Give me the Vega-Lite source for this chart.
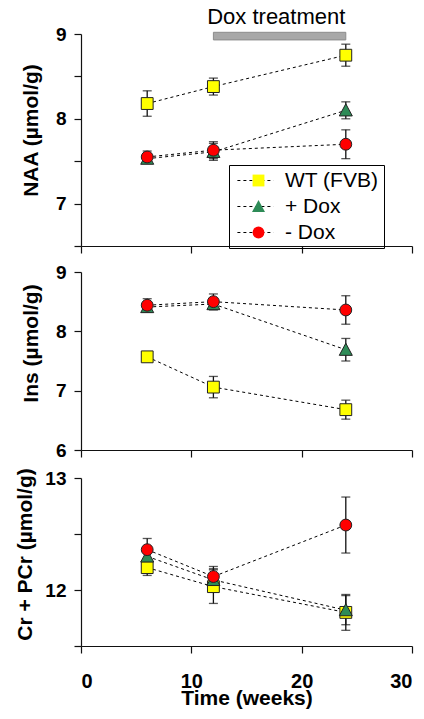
{
  "$schema": "https://vega.github.io/schema/vega-lite/v6.json",
  "padding": {"left": 14, "top": 5, "right": 8, "bottom": 8},
  "background": "white",
  "datasets": {
    "naa": [
      {"group": "WT (FVB)", "week": 6, "mean": 8.18, "err": 0.15},
      {"group": "WT (FVB)", "week": 12, "mean": 8.38, "err": 0.10},
      {"group": "WT (FVB)", "week": 24, "mean": 8.75, "err": 0.13},
      {"group": "+ Dox", "week": 6, "mean": 7.53, "err": 0.05},
      {"group": "+ Dox", "week": 12, "mean": 7.61, "err": 0.10},
      {"group": "+ Dox", "week": 24, "mean": 8.10, "err": 0.10},
      {"group": " - Dox", "week": 6, "mean": 7.55, "err": 0.07},
      {"group": " - Dox", "week": 12, "mean": 7.63, "err": 0.10},
      {"group": " - Dox", "week": 24, "mean": 7.70, "err": 0.17}
    ],
    "ins": [
      {"group": "WT (FVB)", "week": 6, "mean": 7.57, "err": 0.05},
      {"group": "WT (FVB)", "week": 12, "mean": 7.06, "err": 0.18},
      {"group": "WT (FVB)", "week": 24, "mean": 6.68, "err": 0.16},
      {"group": "+ Dox", "week": 6, "mean": 8.41, "err": 0.07},
      {"group": "+ Dox", "week": 12, "mean": 8.46, "err": 0.10},
      {"group": "+ Dox", "week": 24, "mean": 7.69, "err": 0.19},
      {"group": " - Dox", "week": 6, "mean": 8.44, "err": 0.11},
      {"group": " - Dox", "week": 12, "mean": 8.50, "err": 0.13},
      {"group": " - Dox", "week": 24, "mean": 8.36, "err": 0.24}
    ],
    "cr": [
      {"group": "WT (FVB)", "week": 6, "mean": 12.20, "err": 0.07},
      {"group": "WT (FVB)", "week": 12, "mean": 12.03, "err": 0.15},
      {"group": "WT (FVB)", "week": 24, "mean": 11.80, "err": 0.16},
      {"group": "+ Dox", "week": 6, "mean": 12.30, "err": 0.08},
      {"group": "+ Dox", "week": 12, "mean": 12.09, "err": 0.10},
      {"group": "+ Dox", "week": 24, "mean": 11.82, "err": 0.13},
      {"group": " - Dox", "week": 6, "mean": 12.36, "err": 0.10},
      {"group": " - Dox", "week": 12, "mean": 12.12, "err": 0.09},
      {"group": " - Dox", "week": 24, "mean": 12.58, "err": 0.25}
    ],
    "dox": [
      {"start": 12, "end": 24, "label": "Dox treatment"}
    ]
  },
  "vconcat": [
    {
      "width": 331,
      "height": 212,
      "layer": [
        {
          "data": {"name": "dox"},
          "mark": {"type": "rect", "fill": "#a8a8a8", "stroke": "#8c8c8c", "strokeWidth": 1, "clip": false},
          "encoding": {
            "x": {"field": "start", "type": "quantitative", "title": null, "scale": {"domain": [0, 30], "nice": false},
                  "axis": {"values": [0, 10, 20, 30], "labels": false, "title": null}},
            "x2": {"field": "end"},
            "y": {"datum": 9.02, "type": "quantitative", "title": "NAA (µmol/g)", "scale": {"domain": [6.5, 9], "nice": false, "zero": false},
                  "axis": {"values": [6.5, 7, 7.5, 8, 8.5, 9], "labelExpr": "datum.value % 1 === 0 ? format(datum.value, 'd') : ''",
                           "title": "NAA (µmol/g)", "titlePadding": 14, "titleY": 96}},
            "y2": {"datum": 8.93}
          }
        },
        {
          "data": {"name": "dox"},
          "mark": {"type": "text", "font": "Liberation Sans", "fontSize": 22, "color": "black", "baseline": "alphabetic", "align": "center", "clip": false},
          "encoding": {
            "x": {"datum": 17.7, "type": "quantitative", "title": null},
            "y": {"datum": 9.12, "type": "quantitative", "title": "NAA (µmol/g)"},
            "text": {"field": "label"}
          }
        },
        {
          "data": {"name": "naa"},
          "mark": {"type": "line", "color": "black", "strokeWidth": 1, "strokeDash": [3, 3]},
          "encoding": {
            "x": {"field": "week", "type": "quantitative", "title": null},
            "y": {"field": "mean", "type": "quantitative", "title": "NAA (µmol/g)"},
            "strokeDash": {"field": "group", "type": "nominal", "sort": "descending",
              "scale": {"range": [[3, 3], [3, 3], [3, 3]]},
              "legend": {"orient": "none", "legendX": 148, "legendY": 131, "title": null,
                "symbolType": "M-1.2,0H4.9", "symbolSize": 140, "symbolDash": [3, 3],
                "symbolStrokeColor": "black", "symbolStrokeWidth": 1, "symbolFillColor": "transparent",
                "padding": 5, "rowPadding": 4, "labelOffset": 30, "labelFontSize": 21,
                "labelFont": "Liberation Sans", "labelColor": "black", "labelLimit": 300,
                "strokeColor": "black"}}
          }
        },
        {
          "data": {"name": "naa"},
          "mark": {"type": "errorbar", "color": "#111", "thickness": 1.3, "ticks": {"size": 9, "thickness": 1.3}},
          "encoding": {
            "x": {"field": "week", "type": "quantitative", "title": null},
            "y": {"field": "mean", "type": "quantitative", "title": "NAA (µmol/g)"},
            "yError": {"field": "err"}
          }
        },
        {
          "data": {"name": "naa"},
          "mark": {"type": "point", "filled": true, "size": 140, "stroke": "#222", "strokeWidth": 1, "opacity": 1},
          "encoding": {
            "x": {"field": "week", "type": "quantitative", "title": null},
            "y": {"field": "mean", "type": "quantitative", "title": "NAA (µmol/g)"},
            "shape": {"field": "group", "type": "nominal",
              "scale": {"domain": ["WT (FVB)", "+ Dox", " - Dox"], "range": ["square", "M0,-1.1L1.1,0.95L-1.1,0.95Z", "circle"]},
              "legend": {"orient": "none", "legendX": 162, "legendY": 131, "title": null,
                "symbolSize": 140, "symbolStrokeColor": "#222", "symbolStrokeWidth": 1,
                "padding": 5, "rowPadding": 4, "labelOpacity": 0, "labelFontSize": 21,
                "labelFont": "Liberation Sans", "labelLimit": 300}},
            "fill": {"field": "group", "type": "nominal",
              "scale": {"domain": ["WT (FVB)", "+ Dox", " - Dox"], "range": ["#ffff00", "#2e8b57", "#ff0000"]},
              "legend": {"orient": "none", "legendX": 162, "legendY": 131, "title": null,
                "symbolSize": 140, "symbolStrokeColor": "#222", "symbolStrokeWidth": 1,
                "padding": 5, "rowPadding": 4, "labelOpacity": 0, "labelFontSize": 21,
                "labelFont": "Liberation Sans", "labelLimit": 300}}
          }
        }
      ]
    },
    {
      "spacing": 7,
      "resolve": {
        "scale": {"shape": "independent", "fill": "independent"},
        "legend": {"shape": "independent", "fill": "independent"}
      },
      "vconcat": [
        {
          "width": 331,
          "height": 178,
          "encoding": {
            "x": {"field": "week", "type": "quantitative", "scale": {"domain": [0, 30], "nice": false},
                  "axis": {"values": [0, 10, 20, 30], "labels": false, "title": null}},
            "y": {"field": "mean", "type": "quantitative", "scale": {"domain": [6, 9], "nice": false, "zero": false},
                  "axis": {"values": [6, 7, 8, 9], "format": "d", "title": "Ins (µmol/g)", "titlePadding": 14, "titleY": 71}}
          },
          "layer": [
            {
              "data": {"name": "ins"},
              "mark": {"type": "line", "color": "black", "strokeWidth": 1, "strokeDash": [3, 3]},
              "encoding": {"detail": {"field": "group"}}
            },
            {
              "data": {"name": "ins"},
              "mark": {"type": "errorbar", "color": "#111", "thickness": 1.3, "ticks": {"size": 9, "thickness": 1.3}},
              "encoding": {"yError": {"field": "err"}}
            },
            {
              "data": {"name": "ins"},
              "mark": {"type": "point", "filled": true, "size": 140, "stroke": "#222", "strokeWidth": 1, "opacity": 1},
              "encoding": {
                "shape": {"field": "group", "type": "nominal",
                  "scale": {"domain": ["WT (FVB)", "+ Dox", " - Dox"], "range": ["square", "M0,-1.1L1.1,0.95L-1.1,0.95Z", "circle"]}, "legend": null},
                "fill": {"field": "group", "type": "nominal",
                  "scale": {"domain": ["WT (FVB)", "+ Dox", " - Dox"], "range": ["#ffff00", "#2e8b57", "#ff0000"]}, "legend": null}
              }
            }
          ]
        },
        {
          "width": 331,
          "height": 168,
          "encoding": {
            "x": {"field": "week", "type": "quantitative", "scale": {"domain": [0, 30], "nice": false},
                  "axis": {"values": [0, 10, 20, 30], "title": "Time (weeks)", "labelFontSize": 20, "labelPadding": 18, "titlePadding": -4}},
            "y": {"field": "mean", "type": "quantitative", "scale": {"domain": [11.5, 13], "nice": false, "zero": false},
                  "axis": {"values": [11.5, 12, 12.5, 13], "labelExpr": "datum.value % 1 === 0 ? format(datum.value, 'd') : ''",
                           "title": "Cr + PCr (µmol/g)", "titlePadding": 9, "titleY": 76}}
          },
          "layer": [
            {
              "data": {"name": "cr"},
              "mark": {"type": "line", "color": "black", "strokeWidth": 1, "strokeDash": [3, 3]},
              "encoding": {"detail": {"field": "group"}}
            },
            {
              "data": {"name": "cr"},
              "mark": {"type": "errorbar", "color": "#111", "thickness": 1.3, "ticks": {"size": 9, "thickness": 1.3}},
              "encoding": {"yError": {"field": "err"}}
            },
            {
              "data": {"name": "cr"},
              "mark": {"type": "point", "filled": true, "size": 140, "stroke": "#222", "strokeWidth": 1, "opacity": 1},
              "encoding": {
                "shape": {"field": "group", "type": "nominal",
                  "scale": {"domain": ["WT (FVB)", "+ Dox", " - Dox"], "range": ["square", "M0,-1.1L1.1,0.95L-1.1,0.95Z", "circle"]}, "legend": null},
                "fill": {"field": "group", "type": "nominal",
                  "scale": {"domain": ["WT (FVB)", "+ Dox", " - Dox"], "range": ["#ffff00", "#2e8b57", "#ff0000"]}, "legend": null}
              }
            }
          ]
        }
      ]
    }
  ],
  "spacing": 9,
  "resolve": {
    "scale": {"shape": "independent", "fill": "independent", "strokeDash": "independent"},
    "legend": {"shape": "independent", "fill": "independent", "strokeDash": "independent"}
  },
  "config": {
    "view": {"stroke": null},
    "font": "Liberation Sans",
    "axis": {
      "labelFont": "Liberation Sans", "titleFont": "Liberation Sans",
      "labelFontWeight": "bold", "titleFontWeight": "bold",
      "labelFontSize": 19, "titleFontSize": 21,
      "labelColor": "black", "titleColor": "black",
      "domainColor": "#111", "tickColor": "#111", "domainWidth": 1.2, "tickWidth": 1.2,
      "tickSize": 7, "grid": false, "labelPadding": 8
    }
  }
}
